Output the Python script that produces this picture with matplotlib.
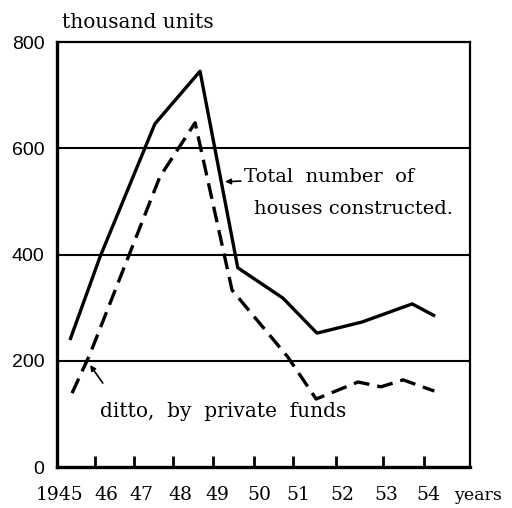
import matplotlib
matplotlib.use("Agg")
import matplotlib.pyplot as plt

# total number of houses constructed (thousand units)
total_x = [1945.32, 1946.05, 1947.39, 1948.49, 1949.41, 1950.51, 1951.34, 1952.44, 1953.66, 1954.22]
total_y = [239, 395, 646, 745, 375, 318, 252, 273, 307, 284]

# ditto, by private funds
private_x = [1945.37, 1945.80, 1947.51, 1948.37, 1949.27, 1950.63, 1951.32, 1952.34, 1952.90, 1953.44, 1954.20]
private_y = [139, 211, 546, 648, 333, 207, 128, 160, 151, 164, 143]

year_labels = ["1945", "46", "47", "48", "49", "50", "51", "52", "53", "54"]
label_pos = [1945.07, 1946.20, 1947.07, 1948.00, 1948.90, 1949.93, 1950.88, 1951.95, 1953.02, 1954.05]
tick_pos = [1945.93, 1946.88, 1947.83, 1948.80, 1949.80, 1950.76, 1951.80, 1952.95, 1953.95]
y_ticks = [0, 200, 400, 600, 800]

serif = "DejaVu Serif"
sans = "Liberation Sans"

fig = plt.figure(figsize=(5.12, 5.08), dpi=100)
ax = fig.add_axes([0.111, 0.0807, 0.807, 0.8366])

ax.plot(total_x, total_y, color="black", lw=2.4, solid_capstyle="butt")
ax.plot(private_x, private_y, color="black", lw=2.4, dashes=(4.8, 2.4))

for v in (200, 400, 600):
    ax.axhline(v, color="black", lw=1.5, zorder=1)

ax.set_xlim(1945, 1955.07)
ax.set_ylim(0, 800)

for side in ("top", "right"):
    ax.spines[side].set_linewidth(1.6)
ax.spines["left"].set_linewidth(2.4)
ax.spines["bottom"].set_linewidth(2.4)

ax.set_yticks(y_ticks)
ax.set_yticklabels([str(v) for v in y_ticks], fontfamily=sans, fontsize=14)
ax.tick_params(axis="y", length=0, pad=9)

ax.set_xticks(label_pos)
ax.set_xticklabels(year_labels, fontfamily=serif, fontsize=13.5)
ax.set_xticks(tick_pos, minor=True)
ax.tick_params(axis="x", which="major", length=0, pad=14)
ax.tick_params(axis="x", which="minor", direction="in", length=8, width=2)

ax.text(0.012, 1.045, "thousand units", transform=ax.transAxes, fontfamily=serif,
        fontsize=14.5, ha="left", va="center")
ax.text(0.962, -0.066, "years", transform=ax.transAxes, fontfamily=serif,
        fontsize=12.5, ha="left", va="center")

ax.annotate("Total  number  of", xy=(1949.1, 537), xytext=(1949.55, 545),
            fontfamily=serif, fontsize=14, ha="left", va="center",
            arrowprops=dict(arrowstyle="-|>", color="black", lw=1.2, mutation_scale=8,
                            shrinkA=0, shrinkB=0))
ax.text(1949.8, 485, "houses constructed.", fontfamily=serif, fontsize=14,
        ha="left", va="center")

ax.text(1946.05, 105, "ditto,  by  private  funds", fontfamily=serif, fontsize=14.5,
        ha="left", va="center")
ax.annotate("", xy=(1945.81, 192), xytext=(1946.12, 158),
            arrowprops=dict(arrowstyle="-|>", color="black", lw=1.2, mutation_scale=8,
                            shrinkA=0, shrinkB=0))

fig.savefig("out.png", dpi=100)
